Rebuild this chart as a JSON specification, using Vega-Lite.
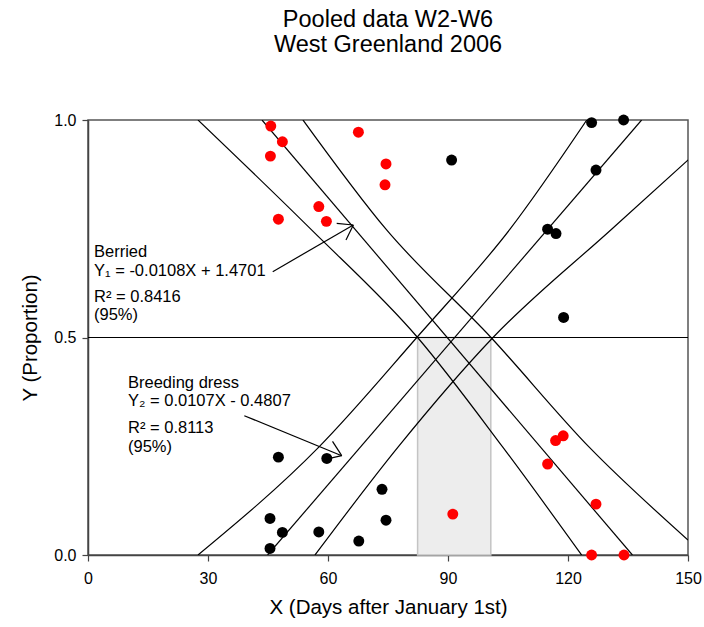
{
  "$schema": "https://vega.github.io/schema/vega-lite/v6.json",
  "width": 600,
  "height": 435,
  "autosize": "none",
  "padding": {"left": 88, "top": 120, "right": 16, "bottom": 72},
  "config": {
    "font": "Liberation Sans",
    "view": {"stroke": "#555555", "strokeWidth": 1.5},
    "axis": {
      "grid": false,
      "labelFlush": false,
      "domainColor": "#444444",
      "domainWidth": 1.5,
      "tickColor": "#444444",
      "tickWidth": 1.2,
      "tickSize": 6,
      "labelColor": "#000000",
      "titleColor": "#000000",
      "labelFontSize": 16,
      "titleFontSize": 20.5,
      "titleFontWeight": "normal"
    }
  },
  "title": {
    "text": ["Pooled data W2-W6", "West Greenland 2006"],
    "fontSize": 23.5,
    "fontWeight": "normal",
    "color": "#000000",
    "anchor": "middle",
    "frame": "group",
    "lineHeight": 25,
    "offset": 56
  },
  "datasets": {
    "points": [
      {"day": 45.7, "p": 0.986, "g": "Berried"},
      {"day": 48.6, "p": 0.95, "g": "Berried"},
      {"day": 45.6, "p": 0.917, "g": "Berried"},
      {"day": 67.6, "p": 0.972, "g": "Berried"},
      {"day": 74.5, "p": 0.899, "g": "Berried"},
      {"day": 74.25, "p": 0.851, "g": "Berried"},
      {"day": 57.7, "p": 0.801, "g": "Berried"},
      {"day": 47.6, "p": 0.772, "g": "Berried"},
      {"day": 59.6, "p": 0.767, "g": "Berried"},
      {"day": 91.2, "p": 0.094, "g": "Berried"},
      {"day": 118.8, "p": 0.274, "g": "Berried"},
      {"day": 116.9, "p": 0.263, "g": "Berried"},
      {"day": 114.9, "p": 0.209, "g": "Berried"},
      {"day": 127.0, "p": 0.117, "g": "Berried"},
      {"day": 125.9, "p": 0.0, "g": "Berried"},
      {"day": 134.0, "p": 0.0, "g": "Berried"},
      {"day": 125.9, "p": 0.994, "g": "Breeding dress"},
      {"day": 133.9, "p": 1.0, "g": "Breeding dress"},
      {"day": 90.9, "p": 0.908, "g": "Breeding dress"},
      {"day": 127.0, "p": 0.885, "g": "Breeding dress"},
      {"day": 114.9, "p": 0.749, "g": "Breeding dress"},
      {"day": 117.0, "p": 0.739, "g": "Breeding dress"},
      {"day": 118.9, "p": 0.546, "g": "Breeding dress"},
      {"day": 47.6, "p": 0.225, "g": "Breeding dress"},
      {"day": 59.7, "p": 0.222, "g": "Breeding dress"},
      {"day": 45.5, "p": 0.084, "g": "Breeding dress"},
      {"day": 48.6, "p": 0.052, "g": "Breeding dress"},
      {"day": 45.5, "p": 0.015, "g": "Breeding dress"},
      {"day": 57.7, "p": 0.053, "g": "Breeding dress"},
      {"day": 67.7, "p": 0.032, "g": "Breeding dress"},
      {"day": 73.5, "p": 0.151, "g": "Breeding dress"},
      {"day": 74.5, "p": 0.08, "g": "Breeding dress"}
    ],
    "lines": [
      {"s": "BL", "day": 27.5, "p": 1.0},
      {"s": "BL", "day": 55.7, "p": 0.749},
      {"s": "BL", "day": 82.4, "p": 0.5},
      {"s": "BL", "day": 103.7, "p": 0.248},
      {"s": "BL", "day": 123.4, "p": 0.0},
      {"s": "BF", "day": 43.5, "p": 1.0},
      {"s": "BF", "day": 136.1, "p": 0.0},
      {"s": "BU", "day": 53.75, "p": 1.0},
      {"s": "BU", "day": 74.5, "p": 0.749},
      {"s": "BU", "day": 100.75, "p": 0.5},
      {"s": "BU", "day": 125.3, "p": 0.248},
      {"s": "BU", "day": 150.0, "p": 0.0345},
      {"s": "DL", "day": 27.5, "p": 0.0},
      {"s": "DL", "day": 57.7, "p": 0.248},
      {"s": "DL", "day": 82.2, "p": 0.5},
      {"s": "DL", "day": 105.5, "p": 0.749},
      {"s": "DL", "day": 124.7, "p": 1.0},
      {"s": "DF", "day": 44.9, "p": 0.0},
      {"s": "DF", "day": 138.4, "p": 1.0},
      {"s": "DU", "day": 56.75, "p": 0.0},
      {"s": "DU", "day": 77.5, "p": 0.248},
      {"s": "DU", "day": 101.25, "p": 0.5},
      {"s": "DU", "day": 130.9, "p": 0.749},
      {"s": "DU", "day": 150.0, "p": 0.908}
    ],
    "arrows": [
      {"x1": 46.18, "y1": 0.6513, "x2": 66.33, "y2": 0.7586},
      {"x1": 62.18, "y1": 0.7625, "x2": 66.33, "y2": 0.7586},
      {"x1": 64.5, "y1": 0.7241, "x2": 66.33, "y2": 0.7586},
      {"x1": 39.08, "y1": 0.3202, "x2": 63.43, "y2": 0.2283},
      {"x1": 61.13, "y1": 0.2611, "x2": 63.43, "y2": 0.2283},
      {"x1": 59.28, "y1": 0.2198, "x2": 63.43, "y2": 0.2283}
    ],
    "labels": [
      {"day": 1.5, "p": 0.6857, "t": "Berried"},
      {"day": 1.5, "p": 0.642, "t": "Y₁ = -0.0108X + 1.4701"},
      {"day": 1.5, "p": 0.5823, "t": "R² = 0.8416"},
      {"day": 1.5, "p": 0.54, "t": "(95%)"},
      {"day": 10, "p": 0.383, "t": "Breeding dress"},
      {"day": 10, "p": 0.3425, "t": "Y₂ = 0.0107X - 0.4807"},
      {"day": 10, "p": 0.28, "t": "R² = 0.8113"},
      {"day": 10, "p": 0.2375, "t": "(95%)"}
    ],
    "band": [
      {"x1": 82.4, "x2": 100.7, "y1": 0, "y2": 0.5}
    ]
  },
  "encoding": {
    "x": {
      "type": "quantitative",
      "scale": {"domain": [0, 150], "nice": false, "zero": false},
      "axis": {
        "values": [0, 30, 60, 90, 120, 150],
        "title": "X (Days after January 1st)",
        "labelPadding": 9,
        "titlePadding": 11
      }
    },
    "y": {
      "type": "quantitative",
      "scale": {"domain": [0, 1], "nice": false},
      "axis": {
        "values": [0, 0.5, 1],
        "format": ".1f",
        "title": "Y (Proportion)",
        "labelPadding": 6,
        "titlePadding": 13
      }
    }
  },
  "layer": [
    {
      "data": {"name": "band"},
      "mark": {"type": "rect", "fill": "#ededed", "stroke": "#c4c4c4", "strokeWidth": 1.5},
      "encoding": {
        "x": {"field": "x1", "type": "quantitative"},
        "x2": {"field": "x2"},
        "y": {"field": "y1", "type": "quantitative"},
        "y2": {"field": "y2"}
      }
    },
    {
      "data": {"values": [{"v": 0.5}]},
      "mark": {"type": "rule", "color": "#000000", "strokeWidth": 1.2},
      "encoding": {"y": {"field": "v", "type": "quantitative"}}
    },
    {
      "data": {"name": "lines"},
      "mark": {"type": "line", "color": "#000000", "strokeWidth": 1.2, "clip": true, "interpolate": "monotone"},
      "encoding": {
        "x": {"field": "day", "type": "quantitative"},
        "y": {"field": "p", "type": "quantitative"},
        "detail": {"field": "s"}
      }
    },
    {
      "data": {"name": "arrows"},
      "mark": {"type": "rule", "color": "#000000", "strokeWidth": 1.2},
      "encoding": {
        "x": {"field": "x1", "type": "quantitative"},
        "x2": {"field": "x2"},
        "y": {"field": "y1", "type": "quantitative"},
        "y2": {"field": "y2"}
      }
    },
    {
      "data": {"name": "points"},
      "mark": {"type": "point", "filled": true, "opacity": 1, "size": 120, "shape": "circle", "clip": false},
      "encoding": {
        "x": {"field": "day", "type": "quantitative"},
        "y": {"field": "p", "type": "quantitative"},
        "color": {
          "field": "g",
          "type": "nominal",
          "scale": {"domain": ["Berried", "Breeding dress"], "range": ["#ff0000", "#000000"]},
          "legend": null
        }
      }
    },
    {
      "data": {"name": "labels"},
      "mark": {"type": "text", "align": "left", "baseline": "alphabetic", "fontSize": 16.5, "color": "#000000"},
      "encoding": {
        "x": {"field": "day", "type": "quantitative"},
        "y": {"field": "p", "type": "quantitative"},
        "text": {"field": "t"}
      }
    }
  ]
}
